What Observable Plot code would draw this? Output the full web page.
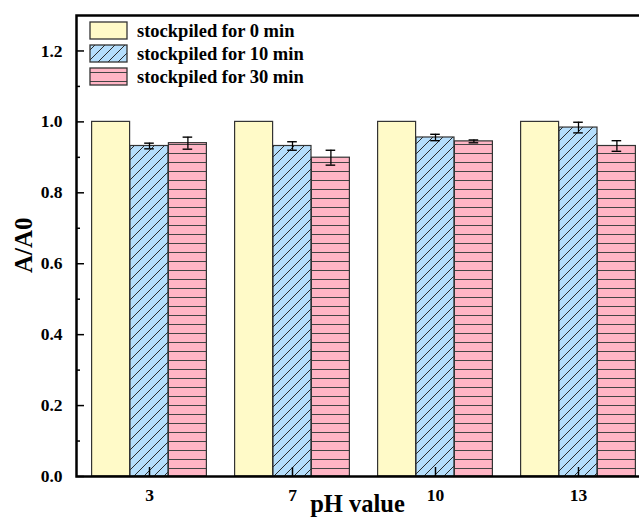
<!DOCTYPE html>
<html><head><meta charset="utf-8">
<script src="https://cdn.jsdelivr.net/npm/d3@7"></script>
<script src="https://cdn.jsdelivr.net/npm/@observablehq/plot@0.6"></script>
<style>
html,body{margin:0;padding:0;overflow:hidden;background:#fff;}
#wrap{position:relative;width:639px;height:519px;overflow:hidden;}
#wrap svg{position:absolute;left:0;top:0;}
</style></head><body><div id="wrap"></div>
<script>
const pHValues = ["3", "7", "10", "13"];
const seriesNames = ["stockpiled for 0 min", "stockpiled for 10 min", "stockpiled for 30 min"];
const values0 = [1.0, 1.0, 1.0, 1.0];
const errors0 = [0, 0, 0, 0];
const values10 = [0.932, 0.932, 0.956, 0.984];
const errors10 = [0.008, 0.012, 0.009, 0.015];
const values30 = [0.940, 0.899, 0.945, 0.932];
const errors30 = [0.017, 0.021, 0.004, 0.015];
const yTicks = [0, 0.2, 0.4, 0.6, 0.8, 1.0, 1.2];
const yMinorTicks = [0.1, 0.3, 0.5, 0.7, 0.9, 1.1];
const xLabel = "pH value";
const yLabel = "A/A0";

const FONT = "'Liberation Serif', 'Times New Roman', 'DejaVu Serif', serif";
const colors = ["#fffac8", "#b5defc", "#ffb5c5"];
const fills = ["#fffac8", "url(#hatchBlue)", "url(#hatchPink)"];

const rows = (vals, errs, s) => vals.map((v, i) => ({pH: pHValues[i], series: seriesNames[s], value: v, err: errs[i]}));
const rows0 = rows(values0, errors0, 0);
const rows10 = rows(values10, errors10, 1);
const rows30 = rows(values30, errors30, 2);

const BW = 38.4;
const errMarks = (data, dx) => [
  Plot.ruleX(data, {x: "pH", y1: d => d.value - d.err, y2: d => d.value + d.err, dx, stroke: "black", strokeWidth: 1.3}),
  Plot.tickY(data, {x: "pH", y: d => d.value + d.err, dx, insetLeft: 14.2, insetRight: 14.2, stroke: "black", strokeWidth: 1.4}),
  Plot.tickY(data, {x: "pH", y: d => d.value - d.err, dx, insetLeft: 14.2, insetRight: 14.2, stroke: "black", strokeWidth: 1.4})
];

const chart = Plot.plot({
  width: 639,
  height: 519,
  marginLeft: 76,
  marginRight: -13,
  marginTop: 15,
  marginBottom: 43,
  style: {fontFamily: FONT, fontSize: "17.5px", fontWeight: "bold", color: "black", background: "white", overflow: "hidden"},
  x: {domain: pHValues, paddingInner: 1 - 1 / 3.75, paddingOuter: 0.36667, axis: null},
  y: {domain: [0, 1.3], axis: null},
  marks: [
    Plot.barY(rows0, {x: "pH", y: "value", dx: -BW, fill: fills[0], stroke: "#333", strokeWidth: 1.2}),
    Plot.barY(rows10, {x: "pH", y: "value", fill: fills[1], stroke: "#333", strokeWidth: 1.2}),
    Plot.barY(rows30, {x: "pH", y: "value", dx: BW, fill: fills[2], stroke: "#333", strokeWidth: 1.2}),
    ...errMarks(rows10, 0),
    ...errMarks(rows30, BW),
    Plot.axisY({ticks: yTicks, tickSize: -8, tickPadding: 22, tickFormat: d3.format(".1f"), strokeWidth: 1.5, label: null}),
    Plot.axisY({ticks: yMinorTicks, tickSize: -4, tickPadding: 0, tickFormat: () => "", strokeWidth: 1.5, label: null}),
    Plot.axisX({tickSize: -9, tickPadding: 21, strokeWidth: 1.5, label: null}),
    Plot.frame({stroke: "black", strokeWidth: 2.5}),
    Plot.text([xLabel], {text: d => d, frameAnchor: "bottom", dx: -7, dy: 35.5, fontSize: 24.5, fontWeight: "bold"}),
    Plot.text([yLabel], {text: d => d, frameAnchor: "left", dx: -53, dy: 27, rotate: -90, fontSize: 25, fontWeight: "bold"})
  ]
});

d3.select(chart).insert("defs", ":first-child").html(`
  <pattern id="hatchBlue" patternUnits="userSpaceOnUse" width="10" height="10">
    <rect width="10" height="10" fill="${colors[1]}"/>
    <path d="M-1,1 l2,-2 M0,10 l10,-10 M9,11 l2,-2" stroke="#2a2a2a" stroke-width="1"/>
  </pattern>
  <pattern id="hatchPink" patternUnits="userSpaceOnUse" width="9" height="9">
    <rect width="9" height="9" fill="${colors[2]}"/>
    <path d="M0,0.5 H9" stroke="#444" stroke-width="1"/>
  </pattern>`);

const wrap = document.getElementById("wrap");
wrap.appendChild(chart);

// legend overlay
const leg = d3.select(wrap).append("svg").attr("width", 639).attr("height", 519)
  .style("pointer-events", "none");
seriesNames.forEach((name, i) => {
  const y0 = 22 + i * 23;
  leg.append("rect").attr("x", 90).attr("y", y0).attr("width", 37).attr("height", 17)
    .attr("fill", fills[i]).attr("stroke", "#333").attr("stroke-width", 1.3);
  leg.append("text").attr("x", 137).attr("y", y0 + 14.5).text(name)
    .attr("font-family", FONT).attr("font-size", 18.5).attr("font-weight", "bold").attr("fill", "black");
});
</script></body></html>
